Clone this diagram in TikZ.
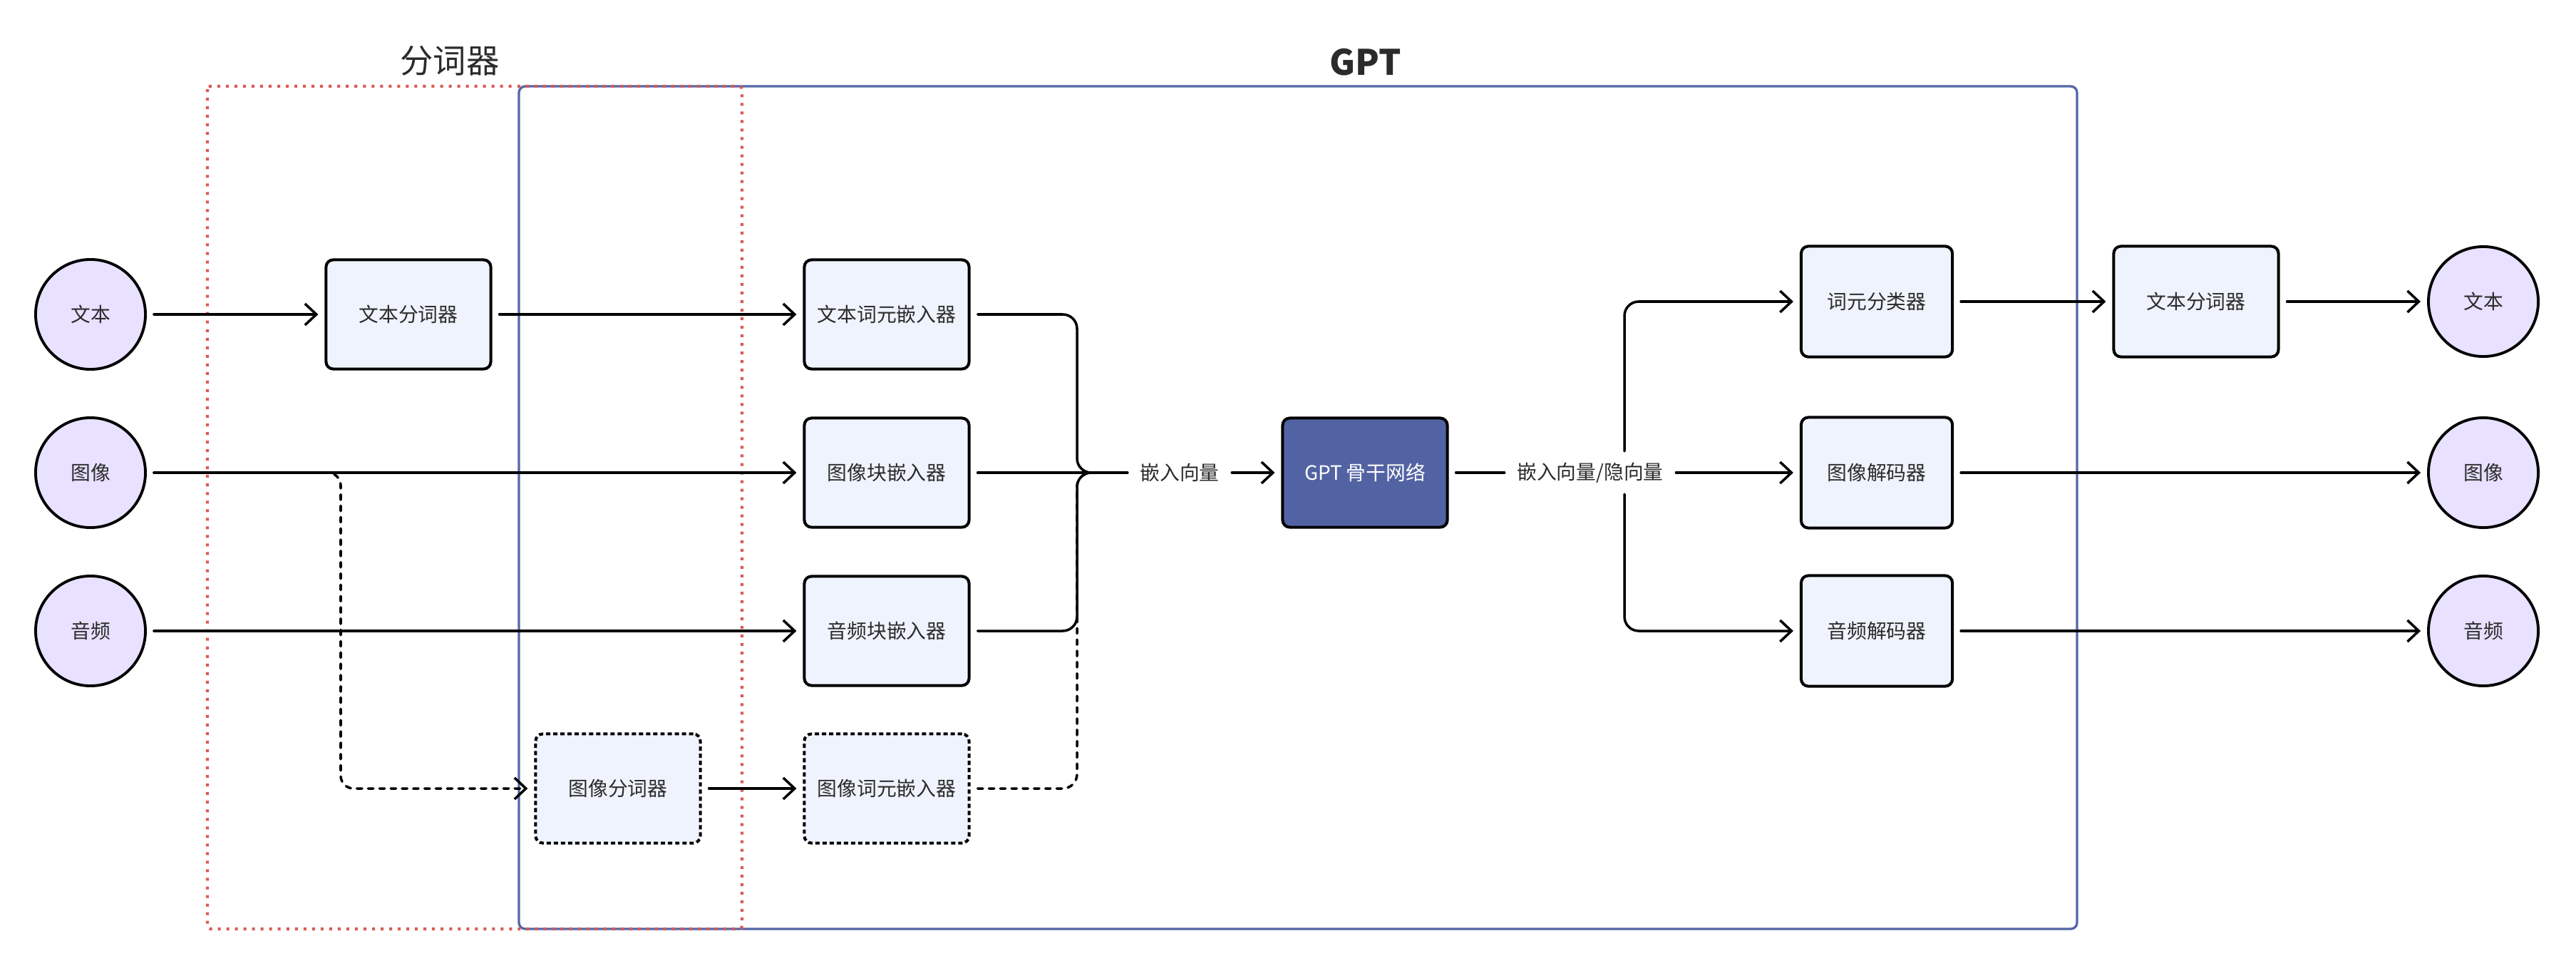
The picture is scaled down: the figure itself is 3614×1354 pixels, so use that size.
\documentclass[tikz,border=0pt]{standalone}
\usepackage{fontspec}
\newfontfamily\cjk{Noto Sans CJK SC}
\usetikzlibrary{arrows.meta,calc}
\definecolor{txt}{HTML}{2B2B2B}
\definecolor{lav}{HTML}{E8E1FF}
\definecolor{boxf}{HTML}{EFF3FD}
\definecolor{gptb}{HTML}{5263A3}
\definecolor{frameb}{HTML}{5566A8}
\definecolor{redd}{HTML}{D95B55}
\begin{document}
\begin{tikzpicture}[x=0.01cm,y=-0.01cm,
  every node/.style={font=\cjk\fontsize{7.9pt}{9pt}\selectfont, text=txt},
  io/.style={circle, draw=black, line width=1.1pt, fill=lav, minimum size=1.54cm, inner sep=0pt},
  blk/.style={draw=black, line width=1.15pt, fill=boxf, rounded corners=0.1cm, minimum width=2.31cm, minimum height=1.53cm, inner sep=0pt},
  rblk/.style={blk, minimum width=2.12cm, minimum height=1.55cm},
  dblk/.style={blk, dash pattern=on 1.7pt off 1.15pt},
  lab/.style={inner xsep=0.17cm, inner ysep=0pt, minimum height=0.59cm},
  ln/.style={line width=1pt, line cap=round, line join=round},
  arr/.style={ln, -{Straight Barb[length=0.16cm,width=0.3cm]}, shorten >=0.09cm},
  gs/.style={shorten <=0.1cm},
  dsh/.style={dash pattern=on 2.1pt off 2.4pt},
  ttl/.style={font=\cjk\fontsize{13.2pt}{15pt}\selectfont},
]
\useasboundingbox (0,0) rectangle (3614,1354);

% frames
\draw[frameb, line width=0.95pt, rounded corners=0.09cm] (728,121) rectangle (2914,1303);
\draw[redd, line width=1.15pt, dash pattern=on 1.14pt off 2.28pt, rounded corners=0.04cm] (291,121) rectangle (1041,1303);

% titles
\node[ttl] (tt1) at (631,85) {分词器};
\node[ttl, font=\cjk\bfseries\fontsize{14pt}{16pt}\selectfont] (tt2) at (1916,87) {GPT};

% inputs
\node[io] (inT) at (127,441) {文本};
\node[io] (inI) at (127,663) {图像};
\node[io] (inA) at (127,885) {音频};

% blocks
\node[blk] (tTok) at (573,441) {文本分词器};
\node[blk] (tEmb) at (1244,441) {文本词元嵌入器};
\node[blk] (iEmb) at (1244,663) {图像块嵌入器};
\node[blk] (aEmb) at (1244,885) {音频块嵌入器};
\node[dblk] (iTok) at (867,1106) {图像分词器};
\node[dblk] (itEmb) at (1244,1106) {图像词元嵌入器};
\node[blk, fill=gptb, text=white] (gpt) at (1915,663) {GPT 骨干网络};

\node[lab] (lab1) at (1655,663) {嵌入向量};
\node[lab] (lab2) at (2231,663) {嵌入向量/隐向量};

\node[rblk] (cls) at (2633,423) {词元分类器};
\node[rblk] (idec) at (2633,663) {图像解码器};
\node[rblk] (adec) at (2633,885) {音频解码器};
\node[blk, minimum height=1.55cm] (tDet) at (3081,423) {文本分词器};

\node[io] (outT) at (3484,423) {文本};
\node[io] (outI) at (3484,663) {图像};
\node[io] (outA) at (3484,885) {音频};

% helper coordinates
\coordinate (mj) at (1511,663);
\coordinate (dc) at (478,1106);
\coordinate (sx) at (2279,663);

% input edges
\draw[arr, gs] (inT.east) -- (tTok.west);
\draw[arr, gs] (tTok.east) -- (tEmb.west);
\draw[arr, gs, dsh, rounded corners=0.18cm] (inI.east) -| (dc) -- (iTok.west);
\draw[arr, gs] (inI.east) -- (iEmb.west);
\draw[arr, gs] (inA.east) -- (aEmb.west);
\draw[arr, gs] (iTok.east) -- (itEmb.west);

% merge
\draw[ln, gs, dsh, rounded corners=0.2cm] (itEmb.east) -| (mj) -- (lab1.west);
\draw[ln, gs, rounded corners=0.2cm] (tEmb.east) -| (mj) -- (lab1.west);
\draw[ln, gs, rounded corners=0.2cm] (aEmb.east) -| (mj) -- (lab1.west);
\draw[ln, gs] (iEmb.east) -- (lab1.west);
\draw[arr] (lab1.east) -- (gpt.west);

% split
\draw[ln, gs] (gpt.east) -- (lab2.west);
\draw[arr] (lab2.east) -- (idec.west);
\draw[arr, rounded corners=0.2cm] (lab2.north -| sx) |- (cls.west);
\draw[arr, rounded corners=0.2cm] (lab2.south -| sx) |- (adec.west);

% outputs
\draw[arr, gs] (cls.east) -- (tDet.west);
\draw[arr, gs] (tDet.east) -- (outT.west);
\draw[arr, gs] (idec.east) -- (outI.west);
\draw[arr, gs] (adec.east) -- (outA.west);
\end{tikzpicture}
\end{document}
